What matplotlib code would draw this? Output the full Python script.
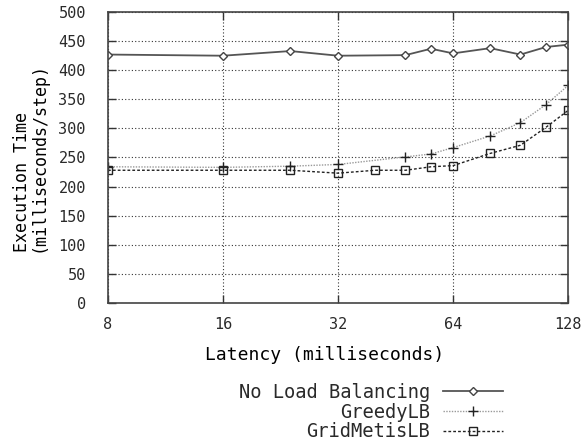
import matplotlib
matplotlib.use('Agg')
import matplotlib.pyplot as plt

# latency (ms) and execution time (ms/step)
lat_nolb = [8, 16, 24, 32, 48, 56, 64, 80, 96, 112, 128]
time_nolb = [427, 425, 433, 425, 426, 437, 429, 438, 427, 440, 444]

lat_greedy = [8, 16, 24, 32, 48, 56, 64, 80, 96, 112, 128]
time_greedy = [234, 233, 235, 238, 251, 256, 267, 287, 310, 341, 374]

lat_grid = [8, 16, 24, 32, 40, 48, 56, 64, 80, 96, 112, 128]
time_grid = [228, 228, 228, 223, 228, 228, 234, 236, 257, 271, 302, 331]

plt.rcParams['font.family'] = ['DejaVu Sans Mono']
plt.rcParams['font.size'] = 11
plt.rcParams['text.color'] = '#2a2a2a'

fig = plt.figure(figsize=(5.87, 4.48), dpi=100)
ax = fig.add_axes([0.184, 0.324, 0.784, 0.649])

ax.plot(lat_nolb, time_nolb, color='#555555', lw=1.3, marker='D', ms=4,
        mfc='white', mec='#444444', mew=1.0, label='No Load Balancing')
ax.plot(lat_greedy, time_greedy, color='#999999', lw=1.0, ls=(0, (1, 1)),
        marker='+', ms=7, mec='#222222', mew=1.0, label='GreedyLB')
ax.plot(lat_grid, time_grid, color='#222222', lw=1.0, ls=(0, (2, 1.5)),
        marker='s', ms=6, mfc='none', mec='#222222', mew=1.0, label='GridMetisLB')

ax.set_xscale('log', base=2)
ax.set_xlim(8, 128)
ax.set_ylim(0, 500)
ax.set_xticks([8, 16, 32, 64, 128])
ax.set_xticklabels(['8', '16', '32', '64', '128'])
ax.set_yticks(range(0, 501, 50))
ax.minorticks_off()
ax.tick_params(direction='in', top=True, right=True, length=6, width=1,
               color='#333333', labelcolor='#2a2a2a')
ax.tick_params(axis='x', pad=10)
ax.tick_params(axis='y', pad=16)
ax.grid(True, ls=(0, (1, 2)), color='#333333', lw=0.8)
for s in ax.spines.values():
    s.set_color('#444444')
    s.set_linewidth(1.2)

ax.set_xlabel('Latency (milliseconds)', fontsize=13)
ax.xaxis.set_label_coords(0.47, -0.15)
ax.set_ylabel('Execution Time\n(milliseconds/step)', labelpad=8, fontsize=12,
              multialignment='left', linespacing=0.85)

fig.legend(loc='upper right', bbox_to_anchor=(0.857, 0.146), markerfirst=False,
           frameon=False, handlelength=3.2, handletextpad=0.7, labelspacing=0.05,
           borderpad=0, borderaxespad=0, fontsize=13.5)

fig.savefig('out.png', dpi=100)
